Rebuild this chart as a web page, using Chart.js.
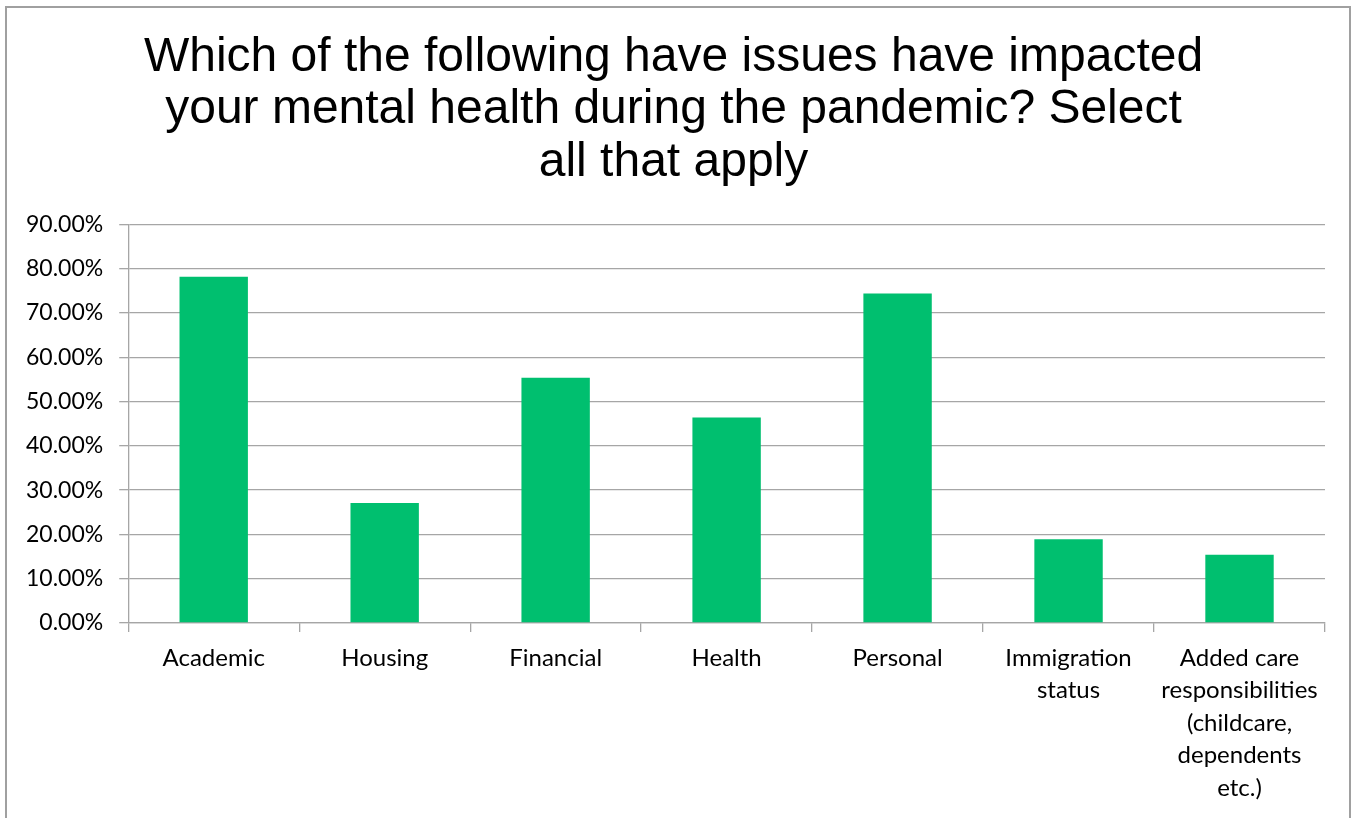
<!DOCTYPE html>
<html>
<head>
<meta charset="utf-8">
<script src="https://cdn.jsdelivr.net/npm/chart.js@4"></script>
<style>
  html, body { margin: 0; padding: 0; background: #fff; overflow: hidden; }
  #frame { position: absolute; left: 5px; top: 6px; width: 1346px; height: 830px;
           border: 2px solid #a0a0a0; box-sizing: border-box; }
  #wrap { position: absolute; left: 0; top: 0; width: 1358px; height: 818px; }
</style>
</head>
<body>
<div id="frame"></div>
<div id="wrap"><canvas id="chart"></canvas></div>
<script>
const categories = [
  'Academic',
  'Housing',
  'Financial',
  'Health',
  'Personal',
  ['Immigration', 'status'],
  ['Added care', 'responsibilities', '(childcare,', 'dependents', 'etc.)'],
];
const shares = [78.2, 27.1, 55.4, 46.4, 74.4, 18.9, 15.4];
const titleLines = [
  'Which of the following have issues have impacted',
  'your mental health during the pandemic? Select',
  'all that apply',
];

const ctx = document.getElementById('chart');
const chart = new Chart(ctx, {
  type: 'bar',
  data: {
    labels: categories,
    datasets: [{
      data: shares,
      backgroundColor: '#00bf6f',
      borderWidth: 0,
      barPercentage: 0.4,
      categoryPercentage: 1.0,
    }],
  },
  options: {
    responsive: true,
    maintainAspectRatio: false,
    animation: false,
    layout: {
      padding: { left: 22, right: 33, top: 31, bottom: 4 },
    },
    plugins: {
      legend: { display: false },
      tooltip: { enabled: false },
      title: {
        display: true,
        text: titleLines,
        color: '#000',
        font: { family: '"Liberation Sans", Arial, sans-serif', size: 48, weight: 'normal', lineHeight: 1.1 },
        padding: { top: 0, bottom: 35 },
      },
    },
    scales: {
      x: {
        grid: {
          offset: true,
          drawOnChartArea: false,
          drawTicks: true,
          tickLength: 9,
          color: '#a6a6a6',
          lineWidth: 1.3,
        },
        border: { display: true, color: '#a6a6a6', width: 1.3 },
        ticks: {
          color: '#000',
          font: { family: 'Lato, "Open Sans", sans-serif', size: 24, lineHeight: 1.35 },
          maxRotation: 0,
          autoSkip: false,
          padding: 10,
        },
      },
      y: {
        min: 0,
        max: 90,
        // nudge the axis left so the title stays near the middle
        afterFit: (scale) => { scale.width -= 12; },
        grid: {
          color: '#a6a6a6',
          lineWidth: 1.3,
          tickLength: 9,
        },
        border: { display: true, color: '#a6a6a6', width: 1.3 },
        ticks: {
          stepSize: 10,
          color: '#000',
          font: { family: 'Lato, "Open Sans", sans-serif', size: 23 },
          padding: 16,
          callback: (v) => v.toFixed(2) + '%',
        },
      },
    },
  },
});
</script>
</body>
</html>
